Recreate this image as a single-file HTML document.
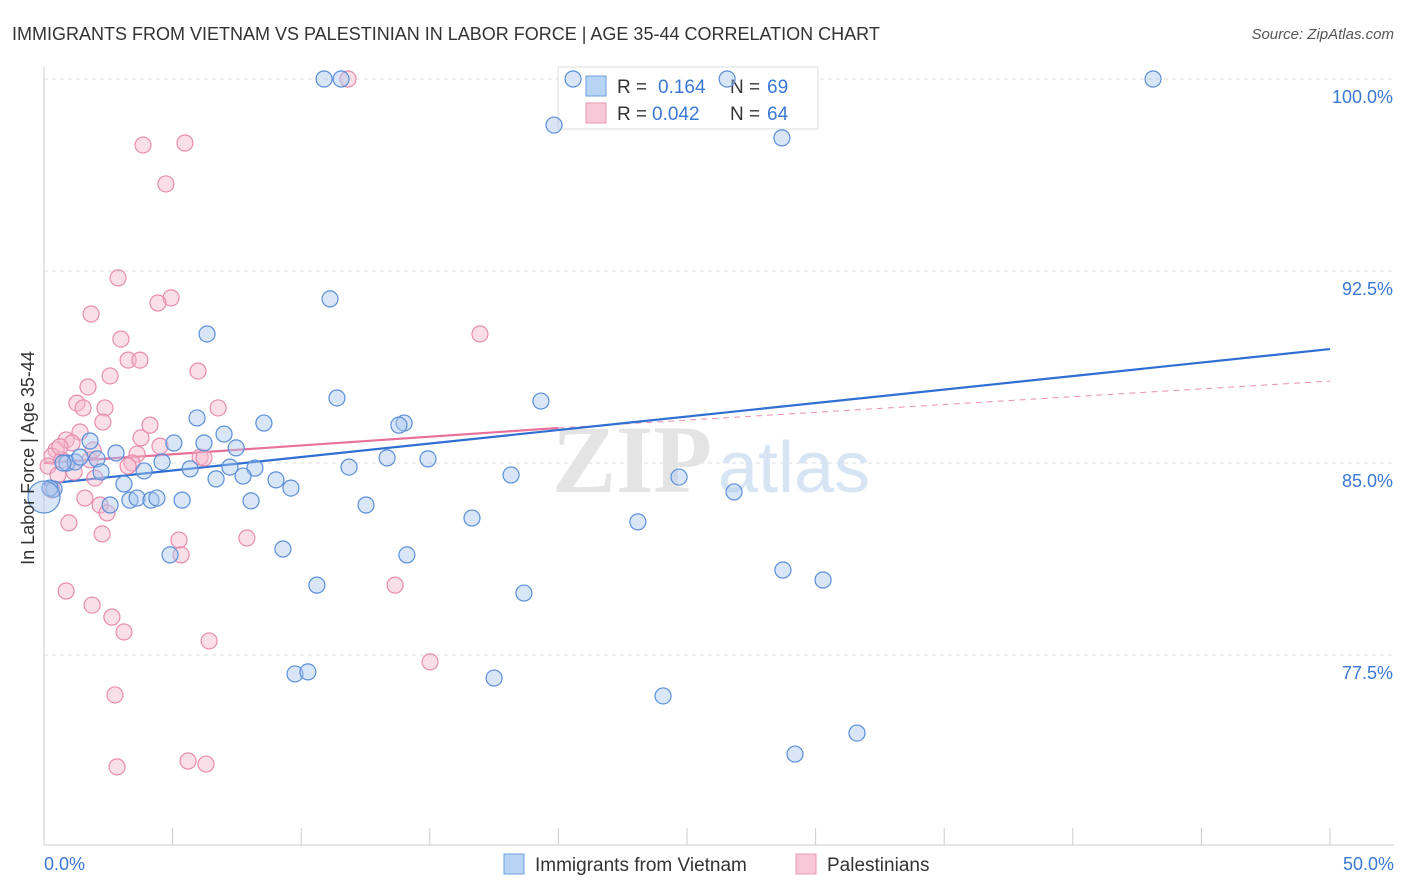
<!DOCTYPE html>
<html><head><meta charset="utf-8"><style>
body{margin:0;background:#fff;font-family:"Liberation Sans",sans-serif;}
svg{display:block}
</style></head><body>
<svg id="chart" width="1406" height="892" xmlns="http://www.w3.org/2000/svg">
<text x="12" y="40" font-size="18" fill="#333">IMMIGRANTS FROM VIETNAM VS PALESTINIAN IN LABOR FORCE | AGE 35-44 CORRELATION CHART</text>
<text x="1394" y="39" font-size="15" fill="#555" font-style="italic" text-anchor="end">Source: ZipAtlas.com</text>
<g id="grid"></g>
<g><text x="552" y="492" font-size="96" fill="#e4e4e4" font-family="Liberation Serif,serif" font-weight="bold">ZIP</text><text x="718" y="492" font-size="72" fill="#d6e4f4">atlas</text></g>
<g>
<rect x="558" y="67" width="260" height="62" fill="#fff" stroke="#ddd"/>
<rect x="586" y="76" width="20" height="20" fill="#b8d4f4" stroke="#6a9ee0"/>
<text x="617" y="93" font-size="19" fill="#333">R =</text>
<text x="658" y="93" font-size="19" fill="#3a78d4">0.164</text>
<text x="730" y="93" font-size="19" fill="#333">N =</text>
<text x="767" y="93" font-size="19" fill="#3a78d4">69</text>
<rect x="586" y="103" width="20" height="20" fill="#f8c8d8" stroke="#e898b4"/>
<text x="617" y="120" font-size="19" fill="#333">R =</text>
<text x="652" y="120" font-size="19" fill="#3a78d4">0.042</text>
<text x="730" y="120" font-size="19" fill="#333">N =</text>
<text x="767" y="120" font-size="19" fill="#3a78d4">64</text>
</g>
<g id="axes"></g>
<g id="lines"></g>
<g id="points"></g>
<text transform="translate(34,458) rotate(-90)" font-size="18" fill="#333" text-anchor="middle">In Labor Force | Age 35-44</text>
<g>
<rect x="504" y="854" width="20" height="20" fill="#b8d4f4" stroke="#6a9ee0"/>
<text x="535" y="871" font-size="19" fill="#333">Immigrants from Vietnam</text>
<rect x="796" y="854" width="20" height="20" fill="#f8c8d8" stroke="#e898b4"/>
<text x="827" y="871" font-size="19" fill="#333">Palestinians</text>
</g>
</svg>
<script>
const blueX=[10.89,11.55,20.57,26.56,43.12,19.83,28.69,11.12,6.34,11.39,19.32,14.00,13.80,8.55,5.95,7.00,7.47,6.22,5.05,2.80,1.79,0.89,1.21,1.40,2.06,2.22,3.89,4.59,5.68,7.23,8.20,6.69,7.74,9.02,9.60,11.86,13.34,14.93,18.16,24.69,26.83,3.11,3.34,3.62,4.16,4.39,5.37,2.57,8.05,12.52,16.64,23.09,0.39,9.29,4.90,14.11,10.61,18.66,28.73,30.29,9.76,10.26,17.50,24.07,31.61,29.20,0.74,0.23];
const blueY=[100,100,100,100,100,98.20,97.70,91.41,90.04,87.54,87.42,86.56,86.48,86.56,86.76,86.13,85.59,85.78,85.78,85.39,85.86,85.00,85.04,85.23,85.16,84.65,84.69,85.04,84.77,84.84,84.80,84.38,84.49,84.34,84.02,84.84,85.20,85.16,84.53,84.45,83.87,84.18,83.55,83.63,83.55,83.63,83.55,83.36,83.52,83.36,82.85,82.70,83.98,81.64,81.41,81.41,80.23,79.92,80.82,80.43,76.76,76.84,76.60,75.90,74.45,73.63,85.00,84.02];
const bigBlue=[0,83.67];
const pinkX=[11.82,3.85,5.48,4.74,2.88,4.94,4.43,1.83,2.99,16.95,3.27,3.73,5.99,2.57,1.71,1.28,1.52,2.37,6.77,4.12,2.29,1.40,0.86,1.09,3.77,4.51,0.47,0.31,0.70,1.79,3.62,3.42,6.07,6.22,1.98,1.59,2.18,2.45,0.97,2.26,5.25,5.33,7.89,0.86,1.87,2.64,3.11,6.42,13.65,15.01,2.76,2.84,5.60,6.30,0.31,0.16,0.54,1.17,3.27,0.62,1.91];
const pinkY=[100,97.42,97.50,95.90,92.23,91.45,91.25,90.82,89.84,90.04,89.02,89.02,88.59,88.40,87.97,87.34,87.15,87.15,87.15,86.48,86.60,86.21,85.90,85.78,85.98,85.66,85.51,85.27,85.12,85.12,85.35,85.00,85.23,85.20,84.41,83.63,83.36,83.05,82.66,82.23,81.99,81.41,82.07,80.00,79.45,78.98,78.40,78.05,80.23,77.23,75.94,73.13,73.36,73.24,83.95,84.88,84.53,84.65,84.88,85.63,85.51];
const blueTrend=[[0,84.18],[50,89.45]];
const pinkTrendSolid=[[0,85.0],[20,86.37]];
const pinkTrendDashed=[[20,86.37],[50,88.20]];
const yTicks=[100,92.5,85,77.5];
const yTickLabels=["100.0%","92.5%","85.0%","77.5%"];
const xTicks=[0,5,10,15,20,25,30,35,40,45,50];

const NS="http://www.w3.org/2000/svg";
const sx=v=>44+v*25.72;
const sy=v=>79+(100-v)*25.6;
function mk(tag,attrs,parent){const e=document.createElementNS(NS,tag);for(const k in attrs)e.setAttribute(k,attrs[k]);parent.appendChild(e);return e;}
const grid=document.getElementById('grid'),axes=document.getElementById('axes'),lines=document.getElementById('lines'),pts=document.getElementById('points');
yTicks.forEach((t,i)=>{
  const l=mk('line',{x1:44,x2:1394,y1:sy(t),y2:sy(t),stroke:'#ddd','stroke-dasharray':'4,4'},grid);
  
  
  const tx=mk('text',{x:1393,y:sy(t)+24,'font-size':18,fill:'#3a78d4','text-anchor':'end'},axes);
  tx.textContent=yTickLabels[i];
  
  
});
const ax=mk('line',{x1:44,x2:1394,y1:845,y2:845,stroke:'#ccc'},axes);


const ay=mk('line',{x1:44,x2:44,y1:67,y2:845,stroke:'#ccc'},axes);


xTicks.forEach(t=>{
  const l=mk('line',{x1:sx(t),x2:sx(t),y1:828,y2:845,stroke:'#ccc'},axes);
  
  
});
const xl0=mk('text',{x:44,y:870,'font-size':18,fill:'#3a78d4'},axes);xl0.textContent='0.0%';


const xl1=mk('text',{x:1394,y:870,'font-size':18,fill:'#3a78d4','text-anchor':'end'},axes);xl1.textContent='50.0%';



function dot(x,y,r,fill,stroke,name){
  const c=mk('circle',{cx:sx(x),cy:sy(y),r:r,fill:fill,'fill-opacity':0.45,stroke:stroke,'stroke-width':1.2},pts);
  
  
}
pinkX.forEach((x,i)=>dot(x,pinkY[i],8,'#f4b8cc','#e88cae','palestinian-point'));
blueX.forEach((x,i)=>dot(x,blueY[i],8,'#a8c8f0','#5a8fd8','vietnam-point'));
dot(bigBlue[0],bigBlue[1],16,'#a8c8f0','#5a8fd8','vietnam-point-large');

function seg(p,stroke,w,dash,name){
  const a={x1:sx(p[0][0]),y1:sy(p[0][1]),x2:sx(p[1][0]),y2:sy(p[1][1]),stroke:stroke,'stroke-width':w};
  if(dash)a['stroke-dasharray']=dash;
  const l=mk('line',a,lines);
  
  
}
seg(pinkTrendDashed,'#e890b0',1,'6,5','palestinian-trend-dashed');
seg(blueTrend,'#2f6fd2',2.2,null,'vietnam-trend');
seg(pinkTrendSolid,'#e8709c',2.2,null,'palestinian-trend');
</script>
</body></html>
